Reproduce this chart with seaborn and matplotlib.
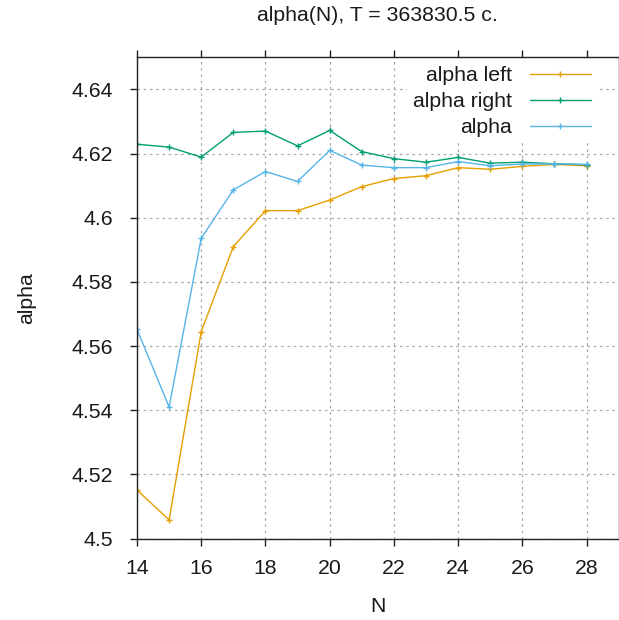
import matplotlib
matplotlib.use("Agg")
import matplotlib.pyplot as plt
import seaborn as sns
import pandas as pd

N = list(range(14, 29))
alpha_left = [4.5151, 4.5058, 4.5645, 4.5910, 4.6022, 4.6022, 4.6055, 4.6097,
              4.6122, 4.6131, 4.6156, 4.6151, 4.6160, 4.6166, 4.6162]
alpha_right = [4.6229, 4.6220, 4.6189, 4.6266, 4.6270, 4.6224, 4.6272, 4.6206,
               4.6184, 4.6173, 4.6188, 4.6170, 4.6173, 4.6168, 4.6165]
alpha = [4.5652, 4.5410, 4.5936, 4.6087, 4.6144, 4.6113, 4.6210, 4.6164,
         4.6156, 4.6156, 4.6175, 4.6162, 4.6167, 4.6168, 4.6166]

series_names = ["alpha left", "alpha right", "alpha"]
series_values = [alpha_left, alpha_right, alpha]
colors = ["#E69F00", "#009E73", "#56B4E9"]
x_ticks = list(range(14, 29, 2))
y_ticks = [4.5, 4.52, 4.54, 4.56, 4.58, 4.6, 4.62, 4.64]
title = "alpha(N), T = 363830.5 c."

sns.set_theme(style="white")
plt.rcParams["font.family"] = ["Liberation Sans", "DejaVu Sans"]

FS = 15.3
TXT = "#1a1a1a"

fig = plt.figure(figsize=(6.19, 6.20), dpi=100)
ax = fig.add_axes([137 / 619, 1 - 538.5 / 620, (618.7 - 137) / 619, (538.5 - 57.3) / 620])

for name, vals, c in zip(series_names, series_values, colors):
    df = pd.DataFrame({"N": N, "value": vals})
    sns.lineplot(data=df, x="N", y="value", ax=ax, color=c, marker="+",
                 markersize=4, markeredgewidth=1, markeredgecolor=c,
                 markerfacecolor=c, linewidth=1, label=name)

ax.set_xlim(14, 29)
ax.set_ylim(4.5, 4.65)
ax.set_xticks(x_ticks)
ax.set_yticks(y_ticks)
ax.set_yticklabels([f"{v:g}" for v in y_ticks])
ax.set_xticklabels([str(v) for v in x_ticks])
ax.grid(True, color="#a8a8a8", linestyle=(0, (2, 3)), linewidth=0.9)
ax.set_axisbelow(True)
for s in ax.spines.values():
    s.set_color("#222222")
    s.set_linewidth(1.0)
ax.tick_params(axis="both", which="major", direction="out", length=5, width=1,
               color="#222222", labelsize=FS, labelcolor=TXT,
               top=True, right=True, bottom=True, left=True)
ax.tick_params(axis="x", pad=10)
ax.tick_params(axis="y", pad=12.5)
ax.set_xlabel("N", fontsize=FS, color=TXT, labelpad=13.5)
ax.set_ylabel("alpha", fontsize=FS, color=TXT, labelpad=25)
ax.set_title(title, fontsize=FS, color=TXT, pad=26)

leg = ax.legend(loc="upper right", bbox_to_anchor=(0.955, 0.995), markerfirst=False,
                frameon=True, fancybox=False, edgecolor="none", facecolor="white",
                framealpha=1.0, fontsize=FS, handlelength=2.85, handletextpad=0.85,
                labelspacing=0.33, borderpad=0.3, borderaxespad=0.0)
for t in leg.get_texts():
    t.set_color(TXT)

fig.savefig("out.png", dpi=100)
